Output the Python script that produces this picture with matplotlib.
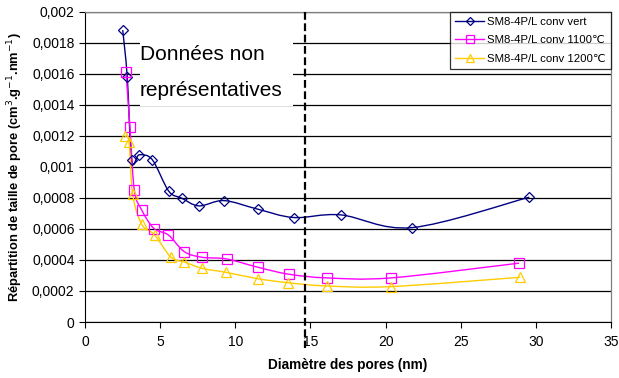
import numpy as np
import matplotlib.pyplot as plt
from matplotlib.path import Path
from matplotlib.patches import PathPatch
from matplotlib.lines import Line2D

plt.rcParams['font.family'] = ['Liberation Sans', 'DejaVu Sans']

# data
x_vert = [2.51, 2.81, 3.11, 3.61, 4.48, 5.57, 6.43, 7.58, 9.25, 11.49, 13.89, 17.01, 21.76, 29.56]
y_vert = [0.00188, 0.00158, 0.001045, 0.001077, 0.001045, 0.000843, 0.000798, 0.000748,
          0.000782, 0.000727, 0.000673, 0.00069, 0.000608, 0.000804]

x_1100 = [2.73, 2.99, 3.28, 3.77, 4.59, 5.54, 6.61, 7.78, 9.43, 11.49, 13.55, 16.12, 20.36, 28.88]
y_1100 = [0.001608, 0.001256, 0.000851, 0.000722, 0.000602, 0.000561, 0.000453, 0.000417,
          0.000406, 0.000353, 0.000308, 0.000284, 0.000284, 0.000379]

x_1200 = [2.64, 2.93, 3.17, 3.77, 4.63, 5.72, 6.61, 7.78, 9.38, 11.49, 13.51, 16.12, 20.36, 28.96]
y_1200 = [0.001195, 0.00116, 0.000824, 0.00063, 0.000561, 0.000417, 0.000387, 0.000346,
          0.00032, 0.000279, 0.000253, 0.000232, 0.000228, 0.000288]

labels = ['SM8-4P/L conv vert', 'SM8-4P/L conv 1100\u2103', 'SM8-4P/L conv 1200\u2103']
colors = ['#000080', '#FF00FF', '#FFCC00']
markers = ['D', 's', '^']
msizes = [5, 7, 7]

y_ticks = [0, 0.0002, 0.0004, 0.0006, 0.0008, 0.001, 0.0012, 0.0014, 0.0016, 0.0018, 0.002]
y_ticklabels = ['0', '0,0002', '0,0004', '0,0006', '0,0008', '0,001', '0,0012',
                '0,0014', '0,0016', '0,0018', '0,002']
x_ticks = [0, 5, 10, 15, 20, 25, 30, 35]
limit_x = 14.64


def smooth_path(x, y):
    # Excel-like smoothed line: cubic Bezier through the points
    p = np.column_stack([x, y])
    n = len(p)
    verts = [p[0]]
    codes = [Path.MOVETO]
    for i in range(n - 1):
        p0 = p[i - 1] if i > 0 else p[i]
        p3 = p[i + 2] if i + 2 < n else p[i + 1]
        c1 = p[i] + (p[i + 1] - p0) / 6
        c2 = p[i + 1] - (p3 - p[i]) / 6
        verts += [c1, c2, p[i + 1]]
        codes += [Path.CURVE4] * 3
    return Path(verts, codes)


fig = plt.figure(figsize=(6.19, 3.78), dpi=100)
ax = fig.add_axes([85 / 619, 1 - 322 / 378, (611 - 85) / 619, (322 - 11.5) / 378])

ax.set_xlim(0, 35)
ax.set_ylim(0, 0.002)
ax.set_yticks(y_ticks)
ax.set_yticklabels(y_ticklabels)
ax.set_xticks(x_ticks)
ax.tick_params(labelsize=10, direction='out', length=4, width=0.8, colors='black')
ax.tick_params(axis='x', pad=5)
ax.yaxis.grid(True, color='black', linewidth=0.9)
ax.set_axisbelow(True)
for s in ['top', 'right']:
    ax.spines[s].set_color('#808080')
    ax.spines[s].set_linewidth(0.9)

handles = []
for xs, ys, c, m, ms, lab in zip([x_vert, x_1100, x_1200], [y_vert, y_1100, y_1200],
                                 colors, markers, msizes, labels):
    ax.add_patch(PathPatch(smooth_path(xs, ys), facecolor='none', edgecolor=c,
                           linewidth=1.0, zorder=3))
    ax.plot(xs, ys, linestyle='none', marker=m, markersize=ms, markerfacecolor='none',
            markeredgecolor=c, markeredgewidth=0.9, zorder=4)
    handles.append(Line2D([], [], color=c, linewidth=1.0, marker=m, markersize=ms - 1,
                          markerfacecolor='none', markeredgecolor=c, markeredgewidth=0.9))

leg = ax.legend(handles, labels, loc='upper right', bbox_to_anchor=(1.0, 1.0),
                borderaxespad=0, fontsize=8.2, frameon=True, fancybox=False,
                handlelength=2.5, labelspacing=0.75, borderpad=0.45, handletextpad=0.3)
leg.get_frame().set_edgecolor('black')
leg.get_frame().set_linewidth(0.9)
leg.set_zorder(6)

# dashed limit line, running past the plot area
ax.plot([limit_x, limit_x], [1.0, -0.085], color='black', linestyle=(0, (3.5, 1.6)),
        linewidth=1.6, transform=ax.get_xaxis_transform(), clip_on=False, zorder=5)

# text box hiding the grid
fig.patches.append(plt.Rectangle((140 / 619, 1 - 106 / 378), 153 / 619, 66 / 378,
                                 transform=fig.transFigure, facecolor='white',
                                 edgecolor='none', zorder=2))
fig.text(140 / 619, 1 - 54 / 378, 'Données non', fontsize=15, va='center', ha='left')
fig.text(140 / 619, 1 - 90 / 378, 'représentatives', fontsize=15, va='center', ha='left')

ax.set_xlabel('Diamètre des pores (nm)', fontsize=9.8, fontweight='bold', labelpad=7)
ax.set_ylabel('Répartition de taille de pore (cm$^{3}$.g$^{-1}$.nm$^{-1}$)', fontsize=9.3,
              fontweight='bold', labelpad=5)

fig.savefig('out.png', dpi=100)
